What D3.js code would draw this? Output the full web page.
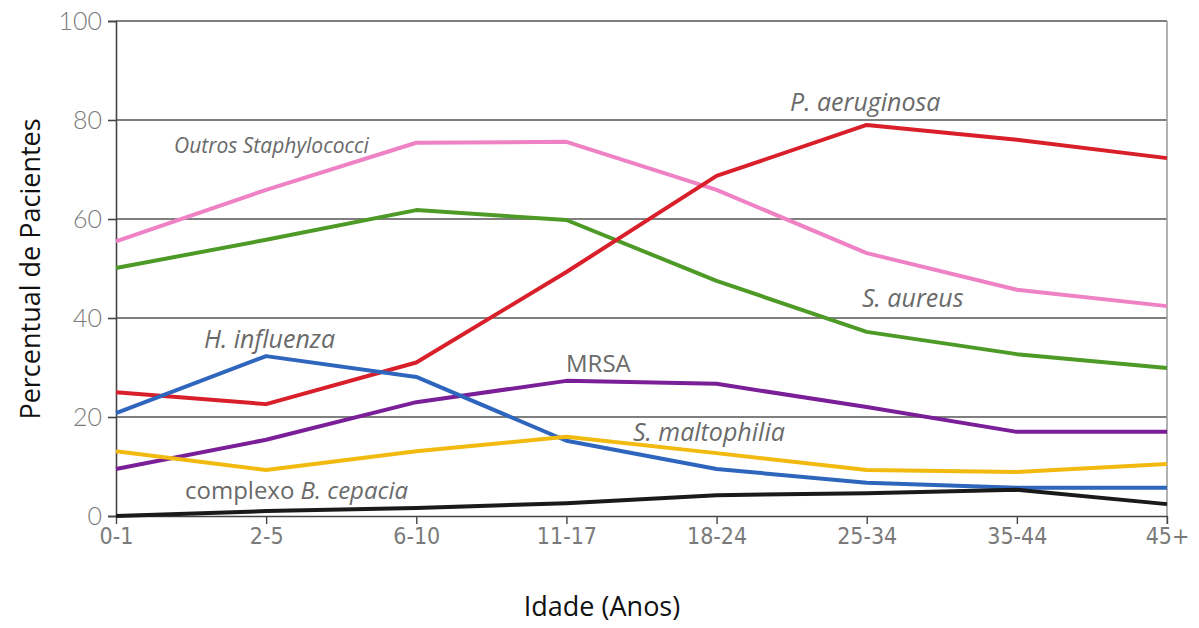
<!DOCTYPE html>
<html><head><meta charset="utf-8">
<script src="https://cdn.jsdelivr.net/npm/d3@7"></script>
<style>
body{margin:0;background:#fff;}
svg{display:block;}
</style></head>
<body><svg id="c" width="1199" height="628"></svg>
<script>
const categories = ["0-1","2-5","6-10","11-17","18-24","25-34","35-44","45+"];
const yTicks = [0,20,40,60,80,100];
const pAeruginosa = [25,22.6,31,49.3,68.7,79,76,72.3];
const outrosStaph = [55.5,65.9,75.4,75.6,65.9,53.1,45.7,42.4];
const sAureus = [50.1,55.8,61.8,59.8,47.5,37.2,32.7,29.9];
const hInfluenza = [20.8,32.3,28.1,15.2,9.5,6.7,5.7,5.7];
const mrsa = [9.5,15.4,23,27.3,26.7,22,17,17];
const sMaltophilia = [13.1,9.3,13.1,16,12.7,9.3,8.9,10.5];
const bCepacia = [0,1,1.6,2.6,4.2,4.6,5.3,2.4];

const series = [
  {name:"Outros Staphylococci", values:outrosStaph, color:"#ee82c4"},
  {name:"S. aureus", values:sAureus, color:"#4e9a27"},
  {name:"P. aeruginosa", values:pAeruginosa, color:"#d81f2a"},
  {name:"MRSA", values:mrsa, color:"#7a1f98"},
  {name:"H. influenza", values:hInfluenza, color:"#2f66bd"},
  {name:"S. maltophilia", values:sMaltophilia, color:"#f2b90f"},
  {name:"complexo B. cepacia", values:bCepacia, color:"#1a1a1a"}
];

(function(){
const svg = d3.select("#c");
const mL = 116, mR = 1167, mT = 21, mB = 516;
const x = d3.scalePoint().domain(categories).range([mL,mR]);
const y = d3.scaleLinear().domain([0,100]).range([mB,mT]);

// gridlines
svg.append("g").selectAll("line").data(yTicks.filter(d=>d>0)).join("line")
  .attr("x1",mL).attr("x2",mR).attr("y1",d=>y(d)).attr("y2",d=>y(d))
  .attr("stroke","#555").attr("stroke-width",1.6);
// right border
svg.append("line").attr("x1",mR).attr("x2",mR).attr("y1",mT).attr("y2",mB+8)
  .attr("stroke","#999").attr("stroke-width",1.5);

// y axis
const ya = svg.append("g").attr("transform",`translate(${mL},0)`)
  .call(d3.axisLeft(y).tickValues(yTicks).tickSize(8).tickPadding(6));
ya.select(".domain").attr("stroke","#444").attr("stroke-width",1.6);
ya.selectAll(".tick line").attr("stroke","#444").attr("stroke-width",1.6);
ya.selectAll(".tick text").attr("fill","#7a7a7a").style("font-family","Lato, sans-serif")
  .style("font-weight","300").style("font-size","25px");

// x axis
const xa = svg.append("g").attr("transform",`translate(0,${mB})`)
  .call(d3.axisBottom(x).tickSize(8).tickPadding(4).tickSizeOuter(0));
xa.select(".domain").attr("stroke","#444").attr("stroke-width",1.6);
xa.selectAll(".tick line").attr("stroke","#444").attr("stroke-width",1.4);
xa.selectAll(".tick text").attr("fill","#7a7a7a")
  .style("font-family","'Liberation Sans Narrow','DejaVu Sans Condensed',sans-serif")
  .style("font-stretch","condensed").style("font-size","23px");

// lines
const line = d3.line().x((d,i)=>x(categories[i])).y(d=>y(d));
svg.append("g").selectAll("path").data(series).join("path")
  .attr("d",d=>line(d.values)).attr("fill","none")
  .attr("stroke",d=>d.color).attr("stroke-width",4).attr("stroke-linejoin","round");

// labels
const lab = svg.append("g").style("font-family","'Open Sans', sans-serif").attr("fill","#6a6a6a");
function addLabel(t, px, py, size, italic){
  return lab.append("text").attr("x",px).attr("y",py).style("font-size",size+"px")
    .style("font-style",italic?"italic":"normal").text(t);
}
addLabel("Outros Staphylococci", 174, 153, 21, true);
addLabel("P. aeruginosa", 790, 111, 25, true);
addLabel("S. aureus", 862, 307, 25, true);
addLabel("H. influenza", 204, 348, 25, true);
addLabel("MRSA", 566, 372, 24, false);
addLabel("S. maltophilia", 633, 441, 25, true);
const cb = lab.append("text").attr("x",185).attr("y",499).style("font-size","24px");
cb.append("tspan").text("complexo ");
cb.append("tspan").style("font-style","italic").text("B. cepacia");

// axis titles
svg.append("text").attr("x",602).attr("y",616).attr("text-anchor","middle")
  .style("font-family","'Open Sans', sans-serif").style("font-size","27px").attr("fill","#111")
  .text("Idade (Anos)");
svg.append("text").attr("transform","translate(40,269) rotate(-90)").attr("text-anchor","middle")
  .style("font-family","'Open Sans', sans-serif").style("font-size","27px").attr("fill","#111")
  .text("Percentual de Pacientes");
})();
</script></body></html>
